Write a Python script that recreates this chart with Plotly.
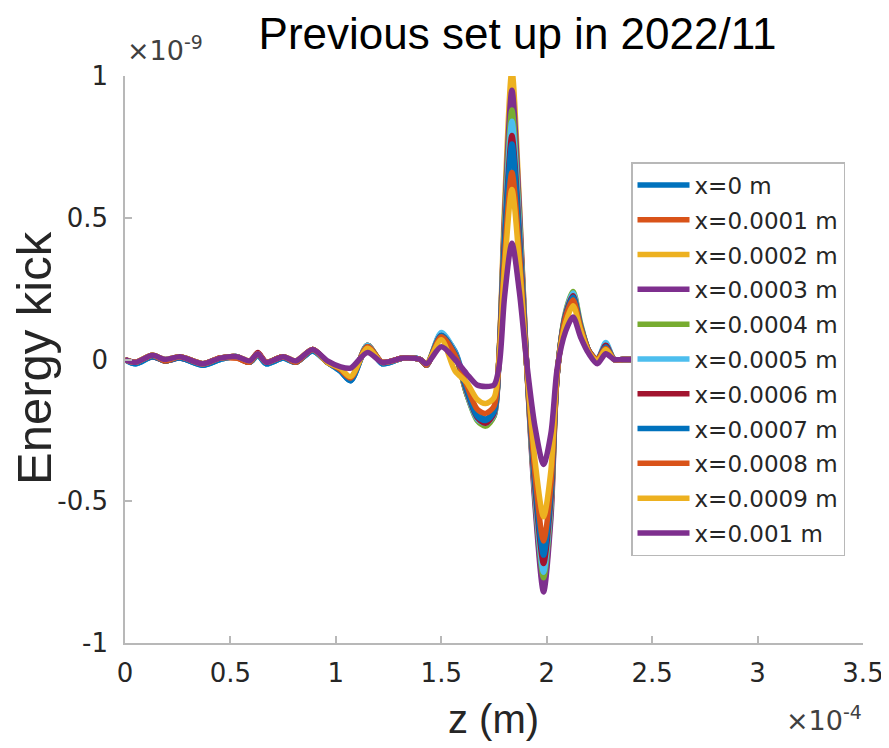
import plotly.graph_objects as go

# z positions (units of 1e-4 m)
z = [0.00, 0.05, 0.13, 0.19, 0.26, 0.37, 0.45, 0.53, 0.59, 0.63, 0.67, 0.75, 0.81, 0.89, 0.96, 1.02, 1.07, 1.15, 1.22, 1.32, 1.40,
     1.43, 1.50, 1.565, 1.62, 1.67, 1.71, 1.75, 1.775, 1.80, 1.835, 1.87, 1.905, 1.945, 1.985, 2.02, 2.05, 2.09, 2.125, 2.16, 2.20, 2.24, 2.28, 2.32, 2.36, 2.40]

# Energy kick values (units of 1e-9)
kick_x0000 = [0.00, -0.015, 0.010, -0.005, 0.005, -0.020, 0.000, 0.010, -0.010, 0.015, -0.015, 0.005, -0.010, 0.030, -0.010, -0.040, -0.075, 0.045, -0.015, 0.005, 0.000,
              -0.020, 0.085, 0.030, -0.100, -0.190, -0.210, -0.180, 0.020, 0.420, 0.780, 0.440, -0.020, -0.440, -0.700, -0.470, -0.050, 0.150, 0.215, 0.120, 0.030, 0.000, 0.050, 0.000, 0.000, 0.000]
kick_x0001 = [0.00, -0.010, 0.015, -0.005, 0.010, -0.015, 0.005, 0.005, -0.010, 0.020, -0.010, 0.010, -0.010, 0.035, -0.010, -0.035, -0.070, 0.050, -0.010, 0.005, 0.000,
              -0.020, 0.090, 0.020, -0.110, -0.200, -0.220, -0.190, 0.030, 0.480, 0.900, 0.500, -0.020, -0.480, -0.760, -0.510, -0.050, 0.160, 0.225, 0.120, 0.030, -0.005, 0.050, 0.000, 0.000, 0.000]
kick_x0002 = [0.00, -0.010, 0.015, 0.000, 0.010, -0.015, 0.005, 0.010, -0.005, 0.020, -0.010, 0.010, -0.005, 0.035, -0.010, -0.030, -0.070, 0.045, -0.010, 0.005, 0.000,
              -0.015, 0.090, 0.020, -0.120, -0.200, -0.220, -0.190, 0.040, 0.540, 1.020, 0.560, -0.020, -0.500, -0.800, -0.540, -0.050, 0.160, 0.225, 0.120, 0.030, -0.005, 0.050, 0.000, 0.000, 0.000]
kick_x0003 = [0.00, -0.010, 0.010, 0.000, 0.005, -0.015, 0.005, 0.010, -0.010, 0.020, -0.010, 0.010, -0.010, 0.035, -0.010, -0.035, -0.070, 0.050, -0.010, 0.005, 0.000,
              -0.020, 0.090, 0.020, -0.120, -0.210, -0.230, -0.200, 0.030, 0.500, 0.950, 0.540, -0.020, -0.520, -0.820, -0.560, -0.050, 0.160, 0.220, 0.120, 0.030, -0.005, 0.050, 0.000, 0.000, 0.000]
kick_x0004 = [0.00, -0.010, 0.015, -0.005, 0.010, -0.015, 0.005, 0.010, -0.010, 0.015, -0.010, 0.010, -0.010, 0.035, -0.010, -0.035, -0.070, 0.050, -0.010, 0.005, 0.000,
              -0.020, 0.090, 0.020, -0.120, -0.215, -0.235, -0.200, 0.030, 0.470, 0.880, 0.500, -0.020, -0.490, -0.770, -0.520, -0.050, 0.170, 0.240, 0.130, 0.030, -0.005, 0.055, 0.000, 0.000, 0.000]
kick_x0005 = [0.00, -0.015, 0.010, 0.000, 0.005, -0.015, 0.000, 0.010, -0.010, 0.015, -0.015, 0.005, -0.010, 0.030, -0.010, -0.040, -0.070, 0.050, -0.015, 0.005, 0.000,
              -0.020, 0.095, 0.025, -0.115, -0.210, -0.225, -0.195, 0.030, 0.450, 0.840, 0.480, -0.020, -0.480, -0.750, -0.505, -0.050, 0.165, 0.235, 0.125, 0.030, 0.000, 0.060, 0.000, 0.000, 0.000]
kick_x0006 = [0.00, -0.010, 0.010, -0.005, 0.005, -0.015, 0.005, 0.010, -0.010, 0.025, -0.010, 0.010, -0.010, 0.035, -0.010, -0.035, -0.065, 0.045, -0.010, 0.005, 0.000,
              -0.020, 0.085, 0.020, -0.110, -0.205, -0.225, -0.190, 0.025, 0.430, 0.790, 0.450, -0.020, -0.460, -0.720, -0.490, -0.050, 0.160, 0.225, 0.120, 0.030, 0.000, 0.050, 0.000, 0.000, 0.000]
kick_x0007 = [0.00, -0.015, 0.010, -0.005, 0.005, -0.020, 0.000, 0.010, -0.010, 0.015, -0.015, 0.005, -0.010, 0.030, -0.010, -0.040, -0.075, 0.045, -0.015, 0.005, 0.000,
              -0.020, 0.085, 0.020, -0.105, -0.200, -0.215, -0.185, 0.020, 0.410, 0.760, 0.430, -0.020, -0.440, -0.690, -0.470, -0.050, 0.155, 0.220, 0.120, 0.030, 0.000, 0.045, 0.000, 0.000, 0.000]
kick_x0008 = [0.00, -0.010, 0.015, -0.005, 0.010, -0.015, 0.005, 0.005, -0.010, 0.020, -0.010, 0.010, -0.010, 0.035, -0.010, -0.035, -0.065, 0.045, -0.010, 0.005, 0.000,
              -0.020, 0.080, 0.015, -0.090, -0.175, -0.190, -0.165, 0.020, 0.360, 0.660, 0.380, -0.020, -0.410, -0.640, -0.440, -0.050, 0.150, 0.210, 0.115, 0.030, 0.000, 0.040, 0.000, 0.000, 0.000]
kick_x0009 = [0.00, -0.010, 0.015, 0.000, 0.010, -0.015, 0.005, 0.010, -0.005, 0.020, -0.010, 0.010, -0.005, 0.035, -0.010, -0.030, -0.060, 0.040, -0.010, 0.005, 0.000,
              -0.015, 0.070, -0.040, -0.080, -0.140, -0.155, -0.135, 0.015, 0.320, 0.600, 0.340, -0.020, -0.360, -0.555, -0.390, -0.040, 0.130, 0.190, 0.105, 0.025, -0.005, 0.035, 0.000, 0.000, 0.000]
kick_x0010 = [0.00, -0.010, 0.015, 0.000, 0.010, -0.015, 0.005, 0.010, -0.005, 0.020, -0.010, 0.010, -0.005, 0.035, -0.005, -0.025, -0.030, 0.025, -0.010, 0.005, 0.000,
              -0.015, 0.045, 0.000, -0.050, -0.090, -0.095, -0.090, -0.020, 0.220, 0.410, 0.240, -0.010, -0.240, -0.370, -0.260, -0.030, 0.100, 0.150, 0.080, 0.020, -0.015, 0.020, 0.000, 0.000, 0.000]

series_names = ["x=0 m", "x=0.0001 m", "x=0.0002 m", "x=0.0003 m", "x=0.0004 m", "x=0.0005 m",
                "x=0.0006 m", "x=0.0007 m", "x=0.0008 m", "x=0.0009 m", "x=0.001 m"]
series_values = [kick_x0000, kick_x0001, kick_x0002, kick_x0003, kick_x0004, kick_x0005,
                 kick_x0006, kick_x0007, kick_x0008, kick_x0009, kick_x0010]
colors = ["#0072BD", "#D95319", "#EDB120", "#7E2F8E", "#77AC30", "#4DBEEE",
          "#A2142F", "#0072BD", "#D95319", "#EDB120", "#7E2F8E"]

x_tickvals = [0, 0.5, 1, 1.5, 2, 2.5, 3, 3.5]
x_ticktext = ["0", "0.5", "1", "1.5", "2", "2.5", "3", "3.5"]
y_tickvals = [-1, -0.5, 0, 0.5, 1]
y_ticktext = ["-1", "-0.5", "0", "0.5", "1"]

# the page body adds an 8px offset; the figure is sized so the window shows it like the reference
OFF = 8
W, H = 889 - OFF, 748 - OFF
L, T = 125 - OFF, 76 - OFF
R = W - (863 - OFF)
B = H - (643 - OFF)
pw, ph = W - L - R, H - T - B

def px(xp):
    return (xp - OFF - L) / pw

def py(yp):
    return (H - B - (yp - OFF)) / ph

fig = go.Figure()
for i, (name, vals, col) in enumerate(zip(series_names, series_values, colors)):
    fig.add_trace(go.Scatter(
        x=z, y=vals, name=name, mode="lines", legendgroup=f"g{i}",
        line=dict(color=col, width=5.5, shape="spline", smoothing=0.8),
    ))

dv = "DejaVu Sans, Verdana, sans-serif"
lib = "Liberation Sans, Arial, sans-serif"
axis_font = dict(family=dv, size=26, color="#262626")
fig.update_xaxes(range=[0, 3.5], tickvals=x_tickvals, ticktext=x_ticktext,
                 showline=True, linecolor="#b8b8b8", linewidth=1.5,
                 ticks="inside", ticklen=7, tickcolor="#b8b8b8", tickwidth=1.5,
                 showgrid=False, zeroline=False, tickfont=axis_font, ticklabelstandoff=6)
fig.update_yaxes(range=[-1, 1], tickvals=y_tickvals, ticktext=y_ticktext,
                 showline=True, linecolor="#b8b8b8", linewidth=1.5,
                 ticks="inside", ticklen=7, tickcolor="#b8b8b8", tickwidth=1.5,
                 showgrid=False, zeroline=False, tickfont=axis_font, ticklabelstandoff=10)

fig.add_annotation(text="Energy kick", xref="paper", yref="paper", x=px(34), y=py(358),
                   xanchor="center", yanchor="middle", textangle=-90, showarrow=False,
                   font=dict(family=lib, size=49, color="#262626"))
fig.add_annotation(text="z (m)", xref="paper", yref="paper", x=px(493), y=py(719),
                   xanchor="center", yanchor="middle", showarrow=False,
                   font=dict(family=lib, size=40, color="#262626"))
fig.add_annotation(text="×10<sup>-9</sup>", xref="paper", yref="paper", x=px(125), y=py(49),
                   xanchor="left", yanchor="middle", showarrow=False,
                   font=dict(family=dv, size=27, color="#404040"))
fig.add_annotation(text="×10<sup>-4</sup>", xref="paper", yref="paper", x=px(864), y=py(718),
                   xanchor="right", yanchor="middle", showarrow=False,
                   font=dict(family=dv, size=27, color="#404040"))

title_size = 44
title_baseline = 48.5  # page pixels
fig.update_layout(
    width=W, height=H,
    margin=dict(l=L, r=R, t=T, b=B, autoexpand=False),
    paper_bgcolor="white", plot_bgcolor="white",
    title=dict(text="Previous set up in 2022/11", xref="container", yref="container",
               x=(517.5 - OFF) / W,
               y=1 - (title_baseline - 0.35 * title_size - OFF) / H,
               xanchor="center", yanchor="middle",
               font=dict(family=lib, size=title_size, color="black")),
    legend=dict(x=px(631), y=py(162), xanchor="left", yanchor="top",
                bgcolor="white", bordercolor="#b8b8b8", borderwidth=1.5,
                font=dict(family=dv, size=23, color="#262626"),
                tracegroupgap=1.9, itemwidth=52),
    showlegend=True,
)

fig.write_html("out.html")
